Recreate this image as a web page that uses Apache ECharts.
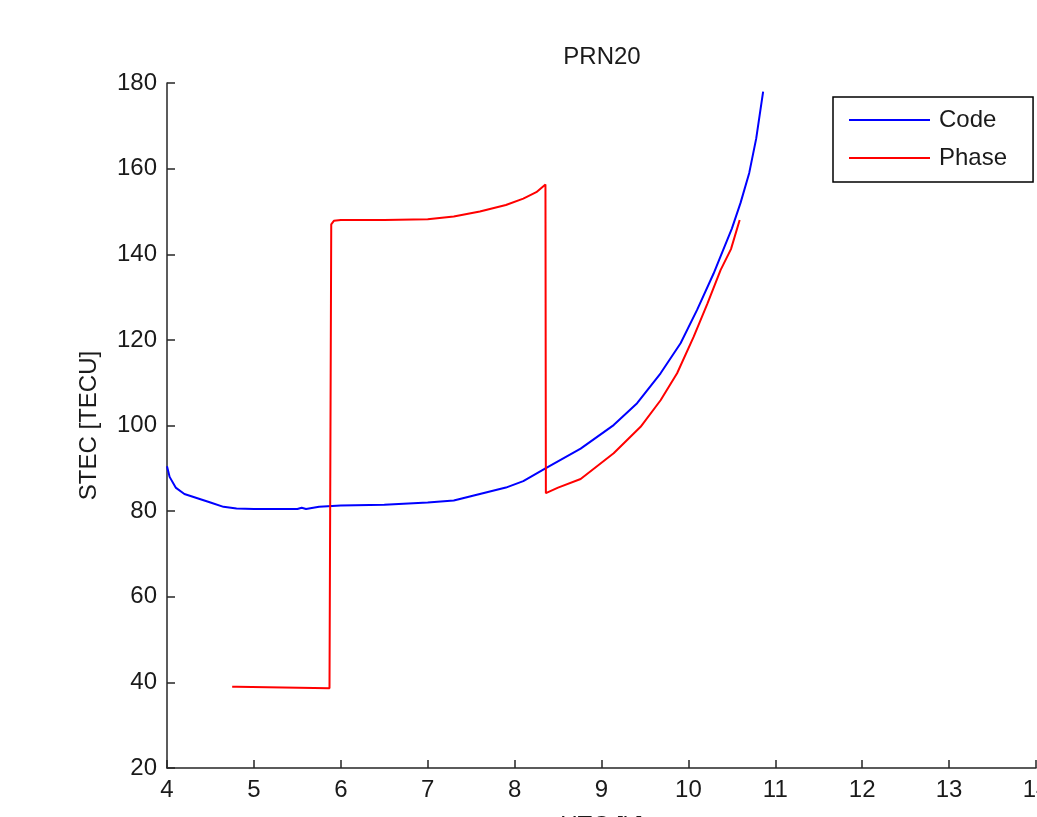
<!DOCTYPE html>
<html>
<head>
<meta charset="utf-8">
<script src="https://cdn.jsdelivr.net/npm/echarts@6/dist/echarts.min.js"></script>
<style>
  html, body { margin: 0; padding: 0; background: #fff; }
  #chart { width: 1037px; height: 817px; }
</style>
</head>
<body>
<div id="chart"></div>
<script>
// STEC 数据 (PRN20)
const codeX = [4.0, 4.03, 4.1, 4.2, 4.35, 4.5, 4.65, 4.8, 5.0, 5.5, 5.55, 5.6, 5.75, 6.0, 6.5, 7.0, 7.3, 7.6, 7.9, 8.1, 8.355, 8.76, 9.14, 9.41, 9.68, 9.91, 10.1, 10.29, 10.37, 10.5, 10.6, 10.7, 10.78, 10.86]
const codeY = [90.5, 88, 85.5, 84, 83, 82, 81, 80.6, 80.5, 80.5, 80.8, 80.5, 81, 81.3, 81.5, 82, 82.5, 84, 85.5, 87, 90, 94.6, 100.1, 105.2, 112.2, 119.2, 127, 135.5, 139.5, 146, 152, 159, 167, 178]

const phaseX = [4.75, 4.8, 4.82, 5.87, 5.88, 5.89, 5.92, 6.0, 6.5, 7.0, 7.3, 7.6, 7.9, 8.1, 8.25, 8.355, 8.36, 8.5, 8.76, 9.14, 9.45, 9.68, 9.87, 10.06, 10.22, 10.37, 10.49, 10.59]
const phaseY = [39, 39, 38.6, 38.6, 39, 147, 147.8, 148, 148, 148.2, 148.8, 150, 151.5, 153, 154.5, 156.3, 84.2, 85.5, 87.5, 93.5, 99.7, 105.9, 112.2, 120.7, 128.5, 136.3, 141.2, 148]

const seriesNames = ['Code', 'Phase']
const xTicks = [4, 5, 6, 7, 8, 9, 10, 11, 12, 13, 14]
const yTicks = [20, 40, 60, 80, 100, 120, 140, 160, 180]

const font = '"Liberation Sans", Arial, sans-serif'

const toPairs = (xs, ys) => xs.map((x, i) => [x, ys[i]])

const chart = echarts.init(document.getElementById('chart'))

const axisCommon = {
  type: 'value',
  axisLine: { show: true, lineStyle: { color: '#262626', width: 1.5 } },
  axisTick: { show: true, inside: true, length: 8, lineStyle: { color: '#262626', width: 1.5 } },
  axisLabel: { color: '#1a1a1a', fontSize: 24, fontFamily: font, margin: 10 },
  splitLine: { show: false },
  nameTextStyle: { color: '#1a1a1a', fontSize: 24, fontFamily: font }
}

chart.setOption({
  animation: false,
  backgroundColor: '#fff',
  title: {
    text: 'PRN20',
    left: 597,
    top: 40,
    textAlign: 'center',
    textStyle: { color: '#1a1a1a', fontSize: 24, fontWeight: 'normal', fontFamily: font }
  },
  grid: { left: 167, top: 83, right: 1, bottom: 49, containLabel: false, outerBoundsMode: 'none' },
  legend: {
    data: seriesNames,
    orient: 'vertical',
    left: 833,
    top: 97,
    padding: [11, 26, 12, 16],
    itemGap: 14,
    itemWidth: 81,
    itemHeight: 2,
    icon: 'rect',
    borderColor: '#000',
    borderWidth: 1.5,
    backgroundColor: '#fff',
    textStyle: { color: '#1a1a1a', fontSize: 24, fontFamily: font, lineHeight: 24, padding: [0, 0, 0, 4] }
  },
  xAxis: Object.assign({}, axisCommon, {
    min: xTicks[0],
    max: xTicks[xTicks.length - 1],
    interval: 1,
    name: 'UTC [h]',
    nameLocation: 'middle',
    nameGap: 46
  }),
  yAxis: Object.assign({}, axisCommon, {
    min: yTicks[0],
    max: yTicks[yTicks.length - 1],
    interval: 20,
    name: 'STEC [TECU]',
    nameLocation: 'middle',
    nameGap: 66
  }),
  series: [
    {
      name: seriesNames[0],
      type: 'line',
      data: toPairs(codeX, codeY),
      showSymbol: false,
      smooth: false,
      color: '#0000ff',
      lineStyle: { color: '#0000ff', width: 2 }
    },
    {
      name: seriesNames[1],
      type: 'line',
      data: toPairs(phaseX, phaseY),
      showSymbol: false,
      smooth: false,
      color: '#ff0000',
      lineStyle: { color: '#ff0000', width: 2 }
    }
  ]
})
</script>
</body>
</html>
